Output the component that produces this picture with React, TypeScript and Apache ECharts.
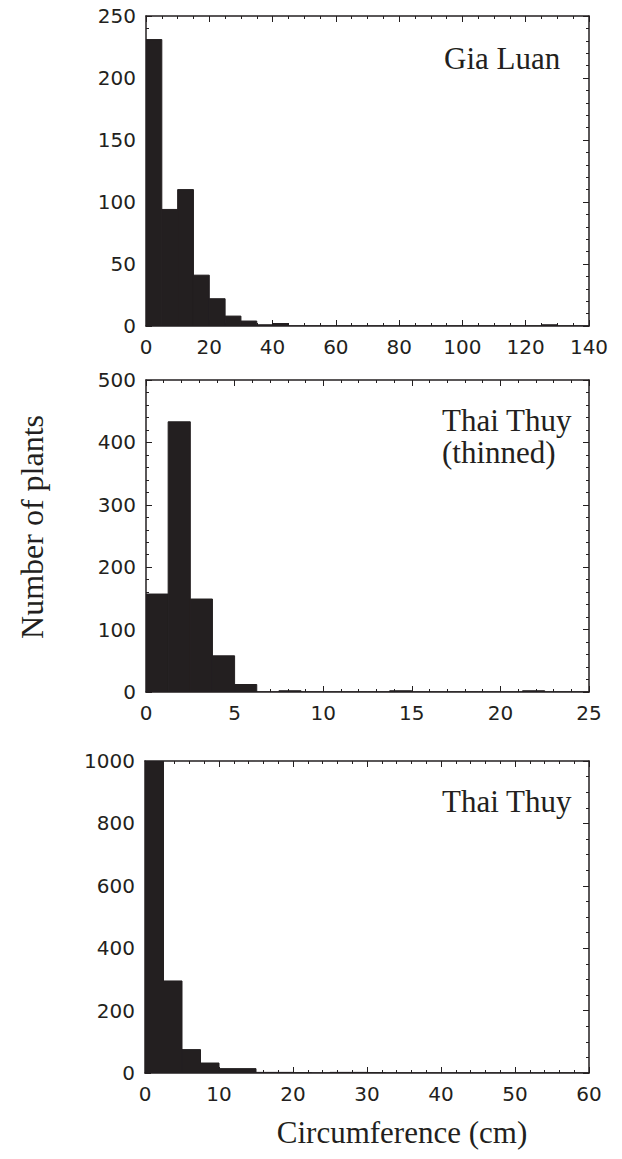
import React, { useEffect, useRef } from "react";
import * as echarts from "echarts";

// Gia Luan: bins of 5 cm from 0 to 140
const giaLuanBinWidth = 5;
const giaLuanCounts = [231, 94, 110, 41, 22, 8, 4, 1, 2, 0, 0, 0, 0, 0, 0, 0, 0, 0, 0, 0, 0, 0, 0, 0, 0, 1, 0, 0];
// Thai Thuy (thinned): bins of 1.25 cm from 0 to 25
const thinnedBinWidth = 1.25;
const thinnedCounts = [157, 433, 149, 58, 12, 0, 2, 0, 0, 0, 0, 2, 0, 0, 0, 0, 0, 2, 0, 0];
// Thai Thuy: bins of 2.5 cm from 0 to 60
const thaiThuyBinWidth = 2.5;
const thaiThuyCounts = [1000, 295, 75, 32, 14, 14, 2, 2, 1, 0, 2, 2, 1, 0, 0, 0, 0, 0, 0, 0, 0, 0, 0, 0];

const panelLabels = [["Gia Luan"], ["Thai Thuy", "(thinned)"], ["Thai Thuy"]];
const yAxisName = "Number of plants";
const xAxisName = "Circumference (cm)";

const INK = "#231f20";

function toBins(counts: number[], w: number) {
  return counts.map((c, i) => [i * w, (i + 1) * w, c]);
}

export default function App() {
  const ref = useRef<HTMLDivElement>(null);
  useEffect(() => {
    document.body.style.margin = "0";
    const chart = echarts.init(ref.current!, null, { renderer: "svg" });

    const grids = [
      { left: 146, top: 16, width: 443, height: 310 },
      { left: 146, top: 380, width: 443, height: 312 },
      { left: 145, top: 761, width: 444, height: 312 },
    ];
    const xCfg = [
      { max: 140, interval: 20, minor: 4 },
      { max: 25, interval: 5, minor: 5 },
      { max: 60, interval: 10, minor: 5 },
    ];
    const yCfg = [
      { max: 250, interval: 50, minor: 5 },
      { max: 500, interval: 100, minor: 5 },
      { max: 1000, interval: 200, minor: 4 },
    ];
    const datasets = [
      toBins(giaLuanCounts, giaLuanBinWidth),
      toBins(thinnedCounts, thinnedBinWidth),
      toBins(thaiThuyCounts, thaiThuyBinWidth),
    ];

    const labelStyle = {
      color: INK,
      fontFamily: "DejaVu Sans",
      fontSize: 20,
      formatter: (v: number) => String(v),
    };
    const lineStyle = { color: INK, width: 1.5 };

    const xAxis: any[] = [];
    const yAxis: any[] = [];
    grids.forEach((g, i) => {
      const xc = xCfg[i];
      const yc = yCfg[i];
      ["bottom", "top"].forEach((pos) => {
        xAxis.push({
          type: "value",
          gridIndex: i,
          position: pos,
          min: 0,
          max: xc.max,
          interval: xc.interval,
          axisLine: { show: true, onZero: false, lineStyle },
          axisTick: { show: true, inside: true, length: 6, lineStyle: { color: INK, width: 1 } },
          minorTick: { show: true, splitNumber: xc.minor, length: 3, lineStyle: { color: INK, width: 1 } },
          splitLine: { show: false },
          axisLabel: pos === "bottom" ? { show: true, margin: 11, ...labelStyle } : { show: false },
        });
      });
      ["left", "right"].forEach((pos) => {
        yAxis.push({
          type: "value",
          gridIndex: i,
          position: pos,
          min: 0,
          max: yc.max,
          interval: yc.interval,
          axisLine: { show: true, onZero: false, lineStyle },
          axisTick: { show: true, inside: true, length: 6, lineStyle: { color: INK, width: 1 } },
          minorTick: { show: true, splitNumber: yc.minor, length: 3, lineStyle: { color: INK, width: 1 } },
          splitLine: { show: false },
          axisLabel: pos === "left" ? { show: true, margin: 10, ...labelStyle } : { show: false },
        });
      });
    });

    const series = datasets.map((data, i) => ({
      type: "custom",
      xAxisIndex: i * 2,
      yAxisIndex: i * 2,
      data,
      clip: true,
      renderItem: (params: any, api: any) => {
        const x0 = api.value(0);
        const x1 = api.value(1);
        const y = api.value(2);
        const p0 = api.coord([x0, y]);
        const p1 = api.coord([x1, 0]);
        return {
          type: "rect",
          shape: { x: p0[0], y: p0[1], width: p1[0] - p0[0], height: p1[1] - p0[1] },
          style: { fill: INK, stroke: INK, lineWidth: 1 },
        };
      },
    }));

    const serif = "Liberation Serif";
    const labelPos = [
      { x: 444, y: 60 },
      { x: 442, y: 422 },
      { x: 442, y: 803 },
    ];
    const graphic: any[] = [];
    panelLabels.forEach((lines, i) => {
      lines.forEach((t, j) => {
        graphic.push({
          type: "text",
          left: labelPos[i].x,
          top: labelPos[i].y - 17 + j * 32,
          style: { text: t, fill: INK, font: `31px "${serif}"` },
        });
      });
    });
    graphic.push({
      type: "text",
      x: 32,
      y: 527,
      rotation: Math.PI / 2,
      style: { text: yAxisName, fill: INK, font: `32px "${serif}"`, align: "center", verticalAlign: "middle" },
    });
    graphic.push({
      type: "text",
      x: 402,
      y: 1132,
      style: { text: xAxisName, fill: INK, font: `31px "${serif}"`, align: "center", verticalAlign: "middle" },
    });

    chart.setOption({
      animation: false,
      backgroundColor: "#ffffff",
      grid: grids,
      xAxis,
      yAxis,
      series,
      graphic,
    });
    return () => chart.dispose();
  }, []);
  return <div ref={ref} style={{ width: 622, height: 1159 }} />;
}
